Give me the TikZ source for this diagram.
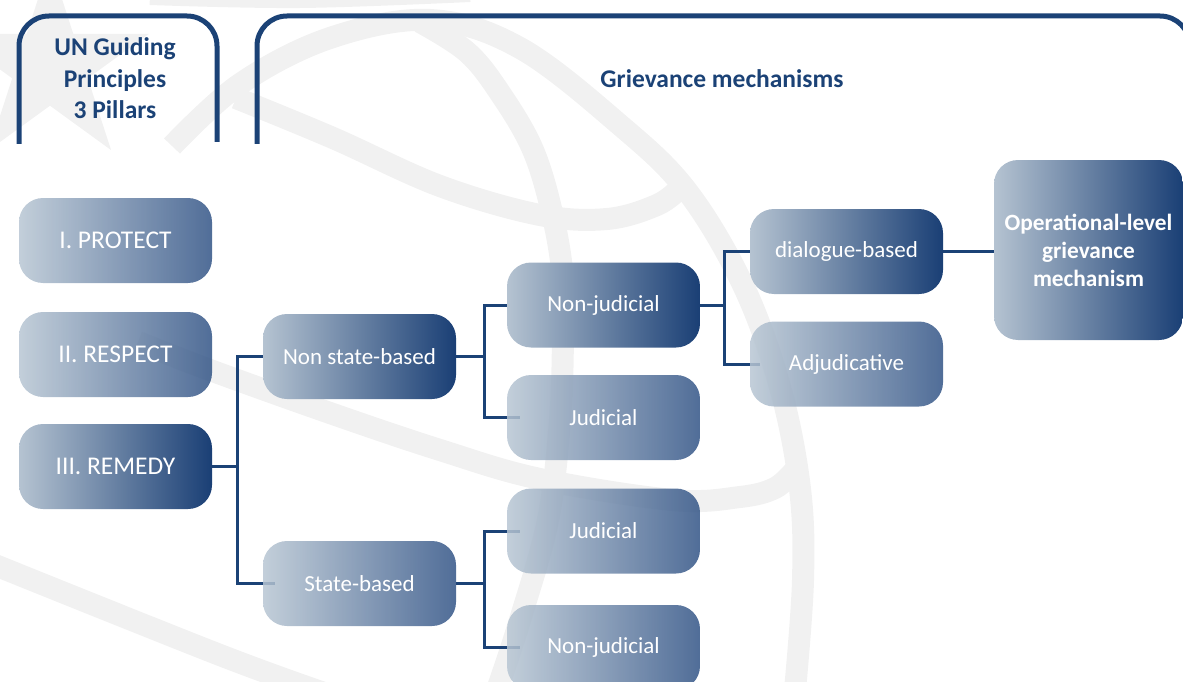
\documentclass[tikz,border=0pt]{standalone}
\usepackage{fontspec}
\setmainfont{Carlito}
\usetikzlibrary{backgrounds}
\definecolor{navy}{RGB}{27,66,118}
\definecolor{bandgray}{RGB}{241,241,241}
\definecolor{lightL}{RGB}{184,198,211}
\definecolor{lightR}{RGB}{50,84,134}
\definecolor{darkL}{RGB}{181,195,209}
\definecolor{darkR}{RGB}{26,63,117}
\begin{document}
\begin{tikzpicture}[x=1pt,y=-1pt,
  box/.style={rounded corners=24pt, minimum width=193pt, minimum height=85pt,
    text=white, align=center, inner sep=0pt},
  lightbox/.style={box, left color=lightL, right color=lightR, fill opacity=0.85, text opacity=1},
  darkbox/.style={box, left color=darkL, right color=darkR},
  big/.style={font=\fontsize{25.5}{31}\selectfont},
  mid/.style={font=\fontsize{23}{28}\selectfont},
  hdr/.style={text=navy, align=center, inner sep=0pt, font=\bfseries\fontsize{25.5}{31.5}\selectfont},
  conn/.style={draw=navy, line width=3pt},
  band/.style={draw=bandgray, line width=22pt},
  frame/.style={draw=navy, line width=5pt, rounded corners=30pt},
]
\useasboundingbox (0,0) rectangle (1183,682);
\clip (0,0) rectangle (1183,682);

% background globe
\begin{pgfonlayer}{background}
\fill[bandgray] (50,-38) -- (73.3,33.9) -- (148.9,33.9) -- (87.8,78.3) -- (111.1,150.1)
  -- (50,105.7) -- (-11.1,150.1) -- (12.2,78.3) -- (-48.9,33.9) -- (26.7,33.9) -- cycle;
\draw[band] plot[smooth, tension=0.6] coordinates {(150,-6) (300,-3) (470,-9)};
\draw[band] plot[smooth, tension=0.6] coordinates {(172,146) (240,84) (330,38) (430,20) (520,48) (620,125) (687,191) (743,285) (780,387) (800,489) (803,580) (795,690)};
\draw[band] plot[smooth, tension=0.6] coordinates {(236,98) (333,138) (440,186) (540,215) (607,219) (657,205) (680,188)};
\draw[band] plot[smooth, tension=0.6] coordinates {(420,22) (467,52) (500,93) (533,150) (553,217) (563,280) (563,340) (560,420) (548,520) (520,620) (497,690)};
\draw[band] plot[smooth, tension=0.6] coordinates {(138,342) (210,370) (330,413) (440,450) (540,479) (673,500) (740,497) (775,488) (795,470)};
\draw[band] plot[smooth, tension=0.6] coordinates {(-10,563) (220,655) (330,695)};
\end{pgfonlayer}

% header frames
\draw[frame] (19,144) -- (19,16) -- (217,16) -- (217,142);
\draw[frame] (257,144) -- (257,16) -- (1190,16) -- (1190,144);
\node[hdr] (h1) at (115,78.5) {UN Guiding\\Principles\\3 Pillars};
\node[hdr] (h2) at (722,79) {Grievance mechanisms};

% boxes
\node[lightbox, big] (protect) at (115.5,240.5) {I. PROTECT};
\node[lightbox, big] (respect) at (115.5,354.5) {II. RESPECT};
\node[darkbox, big] (remedy) at (115.5,466.5) {III. REMEDY};
\node[darkbox, mid] (nsb) at (359.5,356.5) {Non state-based};
\node[lightbox, mid] (sb) at (359.5,583.5) {State-based};
\node[darkbox, mid] (nj1) at (603.5,305) {Non-judicial};
\node[lightbox, mid] (j1) at (603.5,417.5) {Judicial};
\node[lightbox, mid] (j2) at (603.5,531) {Judicial};
\node[lightbox, mid] (nj2) at (603.5,647.5) {Non-judicial};
\node[darkbox, mid] (dlg) at (846.5,251.5) {dialogue-based};
\node[lightbox, mid] (adj) at (846.5,364) {Adjudicative};
\node[darkbox, minimum width=189pt, minimum height=180pt,
  font=\bfseries\fontsize{23.3}{28}\selectfont] (op) at (1088.5,250)
  {Operational-level\\grievance\\mechanism};

% connectors
\coordinate (t1) at (237,0);
\coordinate (t2) at (484,0);
\coordinate (t4) at (724,0);
\begin{pgfonlayer}{background}
\draw[conn] (remedy.east) -- (remedy.east -| t1);
\draw[conn] ([xshift=2pt]nsb.west) -| (t1 |- remedy.east) |- ([xshift=12pt]sb.west);
\draw[conn] (nsb.east) -- (nsb.east -| t2);
\draw[conn] ([xshift=2pt]nj1.west) -| (t2 |- nsb.east) |- ([xshift=13pt]j1.west);
\draw[conn] (sb.east) -- (sb.east -| t2);
\draw[conn] ([xshift=13pt]j2.west) -| (t2 |- sb.east) |- ([xshift=13pt]nj2.west);
\draw[conn] (nj1.east) -- (nj1.east -| t4);
\draw[conn] ([xshift=2pt]dlg.west) -| (t4 |- nj1.east) |- ([xshift=10pt]adj.west);
\draw[conn] (dlg.east) -- (dlg.east -| op.west);
\end{pgfonlayer}
\end{tikzpicture}
\end{document}
